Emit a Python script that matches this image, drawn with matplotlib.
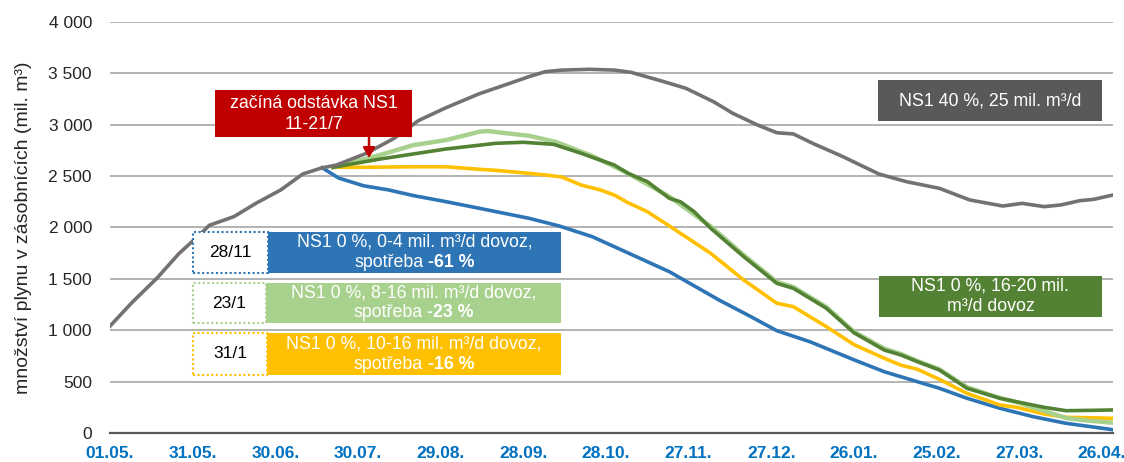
import matplotlib
matplotlib.use("Agg")
import matplotlib.pyplot as plt
from matplotlib.patches import Rectangle
from matplotlib.transforms import offset_copy

plt.rcParams['font.family'] = ['Liberation Sans', 'DejaVu Sans']

# days since 01.05.
tick_days = [0, 30, 60, 90, 120, 150, 180, 210, 240, 270, 300, 330, 360]
tick_labels = ['01.05.', '31.05.', '30.06.', '30.07.', '29.08.', '28.09.', '28.10.',
               '27.11.', '27.12.', '26.01.', '25.02.', '27.03.', '26.04.']

# NS1 40 %, 25 mil. m3/d
gray_days = [0, 8, 17, 25, 33, 36, 45, 53, 62, 70, 77, 82, 93, 103, 112, 122, 134, 146,
             152, 158, 164, 174, 183, 189, 201, 209, 219, 226, 235, 242, 248, 255, 266,
             279, 289, 301, 312, 324, 331, 339, 345, 352, 357, 364]
gray_vals = [1040, 1270, 1505, 1745, 1940, 2020, 2105, 2235, 2365, 2520, 2580, 2605, 2720,
             2865, 3040, 3165, 3300, 3410, 3466, 3515, 3530, 3538, 3530, 3509, 3418, 3353,
             3223, 3110, 2996, 2921, 2909, 2818, 2688, 2520, 2445, 2380, 2267, 2208, 2234,
             2202, 2218, 2260, 2273, 2315]

# NS1 0 %, 0-4 mil. m3/d dovoz
blue_days = [77, 83, 92, 101, 110, 122, 134, 152, 163, 175, 187, 203, 221, 232, 242, 254,
             270, 281, 293, 301, 311, 323, 335, 347, 364]
blue_vals = [2580, 2480, 2405, 2365, 2310, 2250, 2186, 2089, 2014, 1910, 1764, 1569, 1294,
             1140, 995, 888, 712, 596, 499, 435, 338, 240, 159, 94, 32]

# NS1 0 %, 10-16 mil. m3/d dovoz
yellow_days = [81, 92, 110, 122, 134, 140, 152, 158, 164, 171, 178, 183, 188, 195, 203, 218,
               230, 242, 248, 260, 270, 281, 287, 293, 301, 311, 323, 329, 339, 347, 364]
yellow_vals = [2585, 2585, 2590, 2590, 2565, 2555, 2526, 2510, 2490, 2412, 2364, 2315, 2240,
               2153, 2014, 1748, 1488, 1262, 1229, 1034, 860, 727, 660, 620, 522, 386, 272,
               250, 185, 153, 143]

# NS1 0 %, 8-16 mil. m3/d dovoz
lgreen_days = [81, 98, 110, 122, 134, 137, 144, 152, 162, 175, 187, 203, 218, 230, 242, 248,
               260, 270, 281, 287, 293, 301, 311, 323, 329, 339, 347, 355, 364]
lgreen_vals = [2585, 2704, 2800, 2850, 2930, 2938, 2915, 2892, 2830, 2695, 2540, 2300, 2010,
               1730, 1470, 1420, 1225, 985, 820, 770, 700, 620, 445, 340, 300, 215, 145,
               120, 100]

# NS1 0 %, 16-20 mil. m3/d dovoz
dgreen_days = [81, 98, 122, 140, 150, 161, 171, 175, 183, 188, 195, 203, 207, 212, 218, 230,
               242, 248, 260, 270, 281, 287, 293, 301, 311, 323, 329, 339, 347, 355, 364]
dgreen_vals = [2585, 2665, 2763, 2818, 2828, 2808, 2721, 2682, 2607, 2526, 2445, 2283, 2250,
               2153, 1991, 1715, 1456, 1407, 1213, 975, 807, 759, 694, 613, 435, 338, 304,
               250, 217, 220, 224]

fig = plt.figure(figsize=(11.24, 4.62), dpi=100)
ax = fig.add_axes([110 / 1124, 29 / 462, 1003 / 1124, 411.2 / 462])

ax.set_xlim(0, 364)
ax.set_ylim(0, 4000)
ax.set_yticks(range(0, 4001, 500))
ax.set_yticklabels([f'{v:,}'.replace(',', ' ') for v in range(0, 4001, 500)],
                   fontsize=12.5, color='#262626')
ax.set_xticks(tick_days)
ax.set_xticklabels(tick_labels, fontsize=12.5, color='#0070C0', fontweight='bold')
ax.tick_params(axis='both', length=0)
ax.tick_params(axis='y', pad=13)
ax.tick_params(axis='x', pad=9)
ax.grid(axis='y', color='#A6A6A6', linewidth=1.2)
ax.set_axisbelow(True)
for s in ['left', 'right', 'top']:
    ax.spines[s].set_visible(False)
ax.spines['bottom'].set_color('#595959')
ax.spines['bottom'].set_linewidth(1.6)
ax.set_ylabel('množství plynu v zásobnících (mil. m³)', fontsize=14, color='#262626',
              labelpad=12)

lw = 2.6
ax.plot(blue_days, blue_vals, color='#2E75B6', lw=lw)
ax.plot(yellow_days, yellow_vals, color='#FFC000', lw=lw)
ax.plot(lgreen_days, lgreen_vals, color='#A9D18E', lw=lw + 0.6)
ax.plot(dgreen_days, dgreen_vals, color='#548235', lw=lw)
ax.plot(gray_days, gray_vals, color='#767171', lw=lw)


def box(x0, x1, y0, y1, color):
    ax.add_patch(Rectangle((x0, y0), x1 - x0, y1 - y0, facecolor=color, edgecolor='none',
                           zorder=5))


def dotted(x0, x1, y0, y1, color, label):
    ax.add_patch(Rectangle((x0, y0), x1 - x0, y1 - y0, facecolor='white', edgecolor=color,
                           linestyle=(0, (1, 1.2)), linewidth=1.5, zorder=5))
    ax.text((x0 + x1) / 2, (y0 + y1) / 2, label, ha='center', va='center', fontsize=12.5,
            color='black', zorder=6)


def mixed_line(x, y, dy, normal, bold, color='white', fs=12.8):
    r = fig.canvas.get_renderer()
    t = ax.text(0, 0, normal, fontsize=fs)
    w1 = t.get_window_extent(r).width
    t.set_text('a a')
    wsp = t.get_window_extent(r).width
    t.set_text('aa')
    wsp -= t.get_window_extent(r).width
    t.remove()
    t = ax.text(0, 0, bold, fontsize=fs, fontweight='bold')
    w2 = t.get_window_extent(r).width
    t.remove()
    total = w1 + wsp + w2
    tr1 = offset_copy(ax.transData, fig=fig, x=-total / 2, y=dy, units='dots')
    tr2 = offset_copy(ax.transData, fig=fig, x=-total / 2 + w1 + wsp, y=dy, units='dots')
    ax.text(x, y, normal, transform=tr1, ha='left', va='center', fontsize=fs, color=color,
            zorder=6)
    ax.text(x, y, bold, transform=tr2, ha='left', va='center', fontsize=fs, color=color,
            fontweight='bold', zorder=6)


def plain_line(x, y, dy, s, color='white', fs=12.8):
    tr = offset_copy(ax.transData, fig=fig, x=0, y=dy, units='dots')
    ax.text(x, y, s, transform=tr, ha='center', va='center', fontsize=fs, color=color,
            zorder=6)


# red annotation
box(38.1, 109.6, 2879, 3337, '#C00000')
plain_line(73.9, 3108, 10, 'začíná odstávka NS1')
plain_line(73.9, 3108, -11, '11-21/7')
ax.annotate('', xy=(94.0, 2675), xytext=(94.0, 2879),
            arrowprops=dict(arrowstyle='-|>,head_width=0.35,head_length=0.6',
                            color='#C00000', lw=1.8, shrinkA=0, shrinkB=0), zorder=6)

# gray label
box(278.7, 360.0, 3035, 3434, '#595959')
plain_line(319.4, 3234, 0, 'NS1 40 %, 25 mil. m³/d')

# dark green label
box(279.1, 360.0, 1128, 1527, '#548235')
plain_line(319.5, 1328, 10, 'NS1 0 %, 16-20 mil.')
plain_line(319.5, 1328, -10, 'm³/d dovoz')

# blue
dotted(30.1, 57.3, 1556, 1955, '#2E75B6', '28/11')
box(57.3, 163.7, 1556, 1955, '#2E75B6')
plain_line(110.5, 1756, 10, 'NS1 0 %, 0-4 mil. m³/d dovoz,')
mixed_line(110.5, 1756, -10, 'spotřeba', '-61 %')

# light green
dotted(30.1, 56.6, 1070, 1459, '#A9D18E', '23/1')
box(56.6, 163.7, 1070, 1459, '#A9D18E')
plain_line(110.2, 1265, 10, 'NS1 0 %, 8-16 mil. m³/d dovoz,')
mixed_line(110.2, 1265, -10, 'spotřeba', '-23 %')

# yellow
dotted(30.1, 57.0, 564, 973, '#FFC000', '31/1')
box(57.0, 163.7, 564, 973, '#FFC000')
plain_line(110.3, 768, 10, 'NS1 0 %, 10-16 mil. m³/d dovoz,')
mixed_line(110.3, 768, -10, 'spotřeba', '-16 %')

fig.savefig('out.png', dpi=100)
